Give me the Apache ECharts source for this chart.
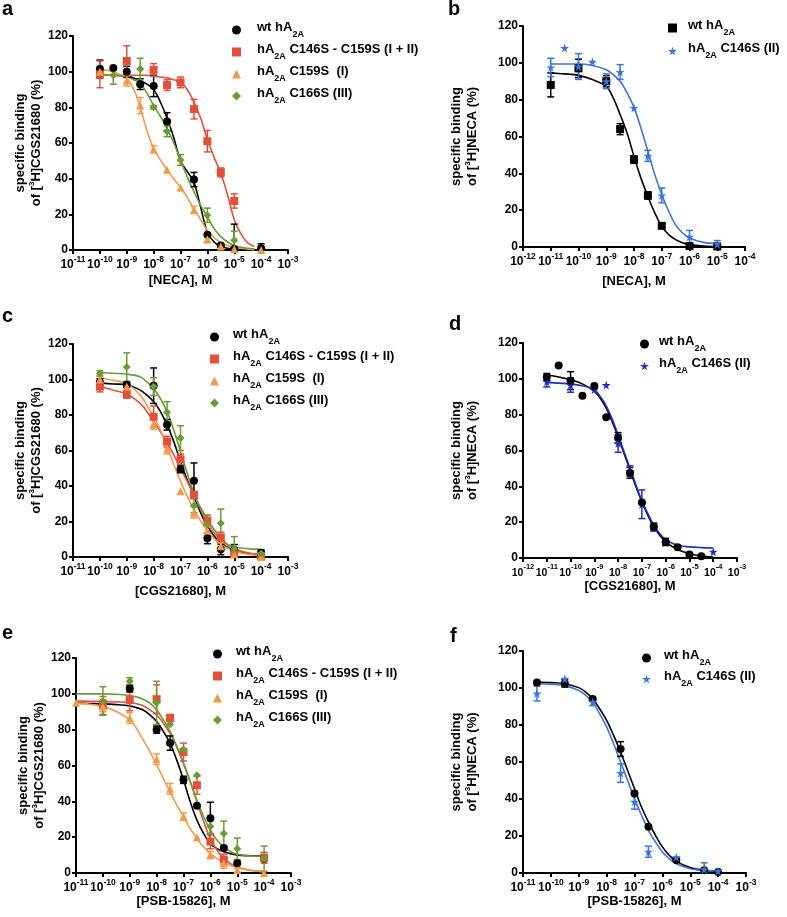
<!DOCTYPE html>
<html><head><meta charset="utf-8">
<script src="https://cdn.jsdelivr.net/npm/echarts@6/dist/echarts.min.js"></script>
<style>html,body{margin:0;padding:0;background:#fff}#c{width:787px;height:917px}</style>
</head><body><div id="c"></div>
<script>
// ---------- DATA (x = log10 of molar concentration) ----------
// Panel a: [NECA] vs [3H]CGS21680
const a_fitX = [-10,-9.5,-9,-8.75,-8.5,-8.25,-8,-7.75,-7.5,-7.25,-7,-6.75,-6.5,-6.25,-6,-5.75,-5.5,-5.25,-5,-4.75,-4.5,-4.25];
const a_wt_x = [-10,-9.5,-9,-8.5,-8,-7.5,-6.5,-6,-5.5,-5,-4];
const a_wt_y = [101.5,102,100,93,92,72,39.5,8.5,2.5,0.5,1];
const a_wt_e = [5,0,3,3,6,5,4,0,0,14,2.5];
const a_wt_fit = [98,98,97.5,96.5,95,93,90,83,74,63,50,44,38,24,10,4.5,2,1,0.5,0.2,0,0];
const a_dm_x = [-10,-9,-8,-7.5,-7,-6.5,-6,-5.5,-5];
const a_dm_y = [98.5,106,101,92.5,94,79,61,43.5,27.5];
const a_dm_e = [7.5,8.5,3.5,3,3,5.5,6,2.5,4];
const a_dm_fit = [98,98,98,98,98,98,97.5,97,96.5,95.5,94,90,83,74,62,52,43,31,17,9,4,2];
const a_c159_x = [-10,-9,-8.5,-8,-7.5,-7,-6.5,-6,-5.5,-5,-4];
const a_c159_y = [100,95,81,56.5,45,35,22.5,6,2,0.5,0];
const a_c159_e = [3,3,4.5,2,0,0,2,2,1,0,0];
const a_c159_fit = [101,100,96,90.5,80,67,57,50.5,45,40,35,29.5,23,17,11,7,4,2.5,1.5,1,0.5,0.2];
const a_c166_x = [-9.5,-8.5,-8,-7.5,-7,-6,-5];
const a_c166_y = [98,101.5,80,66.5,50.5,19.5,5.5];
const a_c166_e = [5,6,1,3,3,4,5];
const a_c166_fit = [98,98,97,95.5,93.5,88,81,75,68,60,50.5,41,32.7,25,18.7,12,7.5,4.5,2.4,1.5,1,0.5];

// Panel b: [NECA] vs [3H]NECA
const b_fitX = [-11,-10.5,-10,-9.5,-9,-8.75,-8.5,-8.25,-8,-7.75,-7.5,-7.25,-7,-6.75,-6.5,-6.25,-6,-5.5,-5];
const b_wt_x = [-11,-10,-9,-8.5,-8,-7.5,-7,-6,-5];
const b_wt_y = [88,97,90,64,47.5,28,11.5,0.5,0.3];
const b_wt_e = [6.5,5,3,3,2,2,1,1,0];
const b_wt_fit = [94.5,94,93.2,90.9,87.2,81,71.9,61.9,49.2,37.4,27.5,18.5,11.2,6.7,4,2.3,1.3,0.5,0.2];
const b_c146_x = [-11,-10.5,-10,-9.5,-9,-8.5,-8,-7.5,-7,-6,-5];
const b_c146_y = [97.5,108,98,100.5,90,95,75.5,49.5,28,5.5,1.5];
const b_c146_e = [5,0,7,0,4,4,0,3,4,3.5,2];
const b_c146_fit = [99.4,99.4,99.4,98.6,96.3,93.6,90,83.7,75.8,64.6,52,39.3,28.4,19.4,12,7.6,4.9,2.5,1.8];

// Panel c: [CGS21680] vs [3H]CGS21680
const c_fitX = [-10,-9.5,-9,-8.5,-8.25,-8,-7.75,-7.5,-7.25,-7,-6.75,-6.5,-6.25,-6,-5.75,-5.5,-5.25,-5,-4.5,-4];
const c_wt_x = [-10,-9,-8,-7.5,-7,-6.5,-6,-5.5,-5,-4];
const c_wt_y = [98.5,97,96.5,74.5,49.5,43,10.5,4.3,4,2.4];
const c_wt_e = [2,1.5,10,3,2,10,3,3,3,1.5];
const c_wt_fit = [98,97.5,97,94,91.2,87.5,82,74.4,65,53.8,43.5,34.2,24.9,17.4,11.8,8,5.5,3.4,2,1.5];
const c_dm_x = [-10,-9,-8,-7.5,-7,-6.5,-6,-5.5,-5,-4];
const c_dm_y = [96,91.5,79,65,55,35,20.5,11,1.5,0.5];
const c_dm_e = [3,2,6,3,3,2,3,3,1,1];
const c_dm_fit = [96,94,91.8,86.5,82,76.3,70.7,64,57.6,50,42.6,35,27.7,21,15.5,10.8,7,4.7,2.4,1.3];
const c_c159_x = [-10,-9,-8,-7.5,-7,-6.5,-6,-5.5,-5,-4];
const c_c159_y = [100,96,75,61,37,25,15,6,1.5,0];
const c_c159_e = [2,2,3,3,0,3,2,2,1,0];
const c_c159_fit = [101,99.5,97.8,91.2,85.6,79,71.6,62.2,52,42.6,34.2,26.7,20.2,14.6,10.3,7.1,5,3.4,1.5,0.6];
const c_c166_x = [-10,-9,-8,-7.5,-7,-6.5,-6,-5.5,-5,-4];
const c_c166_y = [103.5,107,96,81.5,67,29,18.5,19,4.5,2];
const c_c166_e = [1.5,8,5,6,7,4,5,8,7,1];
const c_c166_fit = [104,103.5,103,101.5,98.7,95,89.3,81.9,71.6,59.4,47.3,36,26.7,19.2,13.6,9.5,7,5.6,4.7,4.3];

// Panel d: [CGS21680] vs [3H]NECA
const d_fitX = [-11,-10.5,-10,-9.5,-9,-8.75,-8.5,-8.25,-8,-7.75,-7.5,-7.25,-7,-6.75,-6.5,-6.25,-6,-5.5,-5,-4.5,-4];
const d_wt_x = [-11,-10.5,-10,-9.5,-9,-8.5,-8,-7.5,-7,-6.5,-6,-5.5,-5,-4.5];
const d_wt_y = [101,107.5,99,90.5,96,78.5,67,47.5,31,17.5,9,6,2,1];
const d_wt_e = [2,0,5,0,0,0,3,3,0,2,2,0,0,0];
const d_wt_fit = [102.3,101,99.5,97.2,93,89.2,83.6,76.1,67.7,58.4,49.1,39.8,31.4,23.9,17.4,12.7,9,4.7,2.4,1.1,0.6];
const d_c146_x = [-11,-10,-9,-8.5,-8,-7.5,-7,-6.5,-6,-4];
const d_c146_y = [98.5,96.5,94,96.5,64,48.5,30,17,8.5,3.5];
const d_c146_e = [3,4,0,0,5,3,8,2,1,0];
const d_c146_fit = [98,97.6,97.2,96.1,93.9,90.1,84.9,77.5,68.7,59.3,50,40.7,31.9,24.8,18.3,13.6,10.3,7.1,6.2,5.8,5.6];

// Panel e: [PSB-15826] vs [3H]CGS21680
const e_fitX = [-11,-10.5,-10,-9.5,-9,-8.75,-8.5,-8.25,-8,-7.75,-7.5,-7.25,-7,-6.75,-6.5,-6.25,-6,-5.75,-5.5,-5.25,-5,-4.5,-4];
const e_wt_x = [-10,-9,-8,-7.5,-7,-6.5,-6,-5.5,-5,-4];
const e_wt_y = [95,103,80,72.5,52,37.5,30.5,14,5.5,8];
const e_wt_e = [0,2,2,4,2,0,9,1,0,0];
const e_wt_fit = [94.8,94.6,94.4,94,93.3,92.3,91,88.3,84.5,79,72.4,63,52,39.8,29.5,22,16.4,13.6,11.8,10.8,10,9.6,9.3];
const e_dm_x = [-10,-9,-8,-7.5,-7,-6.5,-6,-5.5,-4];
const e_dm_y = [93.5,96.5,97,86.5,67.5,49,17.5,7.5,8.5];
const e_dm_e = [5,6,8,2,5,5,4,3,3];
const e_dm_fit = [96,95.9,95.7,95.5,95.2,94.5,93.3,91,88.3,83.6,78,70.5,61.2,51,39.8,28.6,19.2,12.7,8,5.2,3.4,1.5,0.7];
const e_c159_x = [-11,-10,-9,-8,-7.5,-7,-6.5,-6,-5.5,-5,-4];
const e_c159_y = [95,93,86.5,63.5,47,31.5,20,10,5.5,1.5,0];
const e_c159_e = [0,3,3,3,3,2,0,2,3,1,0];
const e_c159_fit = [94.8,94.2,93,90.1,85.5,80.8,74.3,67.7,60.3,52.8,45.3,37.9,31.4,24.8,19.2,14.6,10.8,8,5.8,4.2,3,1.5,0.6];
const e_c166_x = [-10,-9,-8,-7.5,-7,-6.5,-6,-5.5,-5,-4];
const e_c166_y = [96,107,95,83,69,54.5,26,22,13.5,8];
const e_c166_e = [8,2,12,0,0,0,4,7,6,7];
const e_c166_fit = [100,100,100,99.8,99.1,98.3,97,94.8,91,85.5,79,70.5,61.2,51,40.7,31.4,23.9,18.3,14.6,12,10.5,9.5,9.2];

// Panel f: [PSB-15826] vs [3H]NECA
const f_fitX = [-10.5,-10,-9.5,-9,-8.75,-8.5,-8.25,-8,-7.75,-7.5,-7.25,-7,-6.75,-6.5,-6.25,-6,-5.75,-5.5,-5,-4.5,-4];
const f_wt_x = [-10.5,-9.5,-8.5,-7.5,-7,-6.5,-5.5,-4.5,-4];
const f_wt_y = [103,102.5,94,67,43,25,7,1.5,0.5];
const f_wt_e = [0,2,1,4,1,0,0,0,0];
const f_wt_fit = [103.2,102.9,102.3,100.2,97.8,94.2,88.8,82.5,74.4,65.4,55.5,45.6,35.7,27.6,20.4,14.1,9.5,6.3,2.9,1.4,0.9];
const f_c146_x = [-10.5,-9.5,-8.5,-7.5,-7,-6.5,-5.5,-4.5,-4];
const f_c146_y = [97,105,92.5,54,38.5,11.5,8.5,2,1];
const f_c146_e = [4,0,2,5,4,3,0,3.5,0];
const f_c146_fit = [102.3,102,101.3,98.7,96,92.4,86.1,79,69.9,60,50.1,40.2,31.2,23.1,16.8,11.4,7.7,5,2.3,1.4,1.1];

// Axis ticks / labels
const yTicks = [0,20,40,60,80,100,120];
const xRanges = [[-11,-3],[-12,-4],[-11,-3],[-12,-3],[-11,-3],[-11,-3]];
const xNames = ['[NECA], M','[NECA], M','[CGS21680], M','[CGS21680], M','[PSB-15826], M','[PSB-15826], M'];
const yNames = ['CGS21680','NECA','CGS21680','NECA','CGS21680','NECA'];
const panelLetters = ['a','b','c','d','e','f'];
const legendTexts = {
  wt: '{t|wt hA}{s|2A}',
  dm: '{t|hA}{s|2A}{t| C146S - C159S (I + II)}',
  c159: '{t|hA}{s|2A}{t| C159S  (I)}',
  c166: '{t|hA}{s|2A}{t| C166S (III)}',
  c146: '{t|hA}{s|2A}{t| C146S (II)}'
};

// ---------- STYLE ----------
const FONT = '"Liberation Sans", Arial, Helvetica, sans-serif';
const COL = {black:'#000000', red:'#e0503a', orange:'#f29a4c', green:'#6a9c34', blue:'#3b74dc', dblue:'#1e2ec4'};
const STAR = 'path://M50,0 L61,35 L98,35 L68,57 L79,91 L50,70 L21,91 L32,57 L2,35 L39,35 Z';
const grids = [
  {left:73, top:36, width:215, height:214},
  {left:523, top:26, width:222, height:221},
  {left:73, top:344, width:215, height:213},
  {left:523, top:343, width:214, height:215},
  {left:76, top:658, width:215, height:215},
  {left:523, top:651, width:223, height:222}
];
const xNameGap = [24, 28, 28, 17, 22, 22];
const yNameGap = [28, 43, 28, 43, 28, 43];
const xTickFont = [[12,8.5],[12,8.5],[12,8.5],[10.5,7.5],[12,8.5],[12,8.5]];
const legendPos = [
  {left:232, top:21, gap:4, pad:11},
  {left:668, top:19, gap:5, pad:6},
  {left:210, top:328, gap:4, pad:9},
  {left:640, top:335, gap:4, pad:5},
  {left:213, top:645, gap:4, pad:9},
  {left:642, top:649, gap:3, pad:8}
];
const letterPos = [[2,14],[448,14],[2,321],[449,329],[2,638],[450,641]];

const panels = [
  [ {k:'wt', c:COL.black, s:'circle', z:8, x:a_wt_x, y:a_wt_y, e:a_wt_e, fx:a_fitX, fy:a_wt_fit},
    {k:'dm', c:COL.red, s:'rect', z:8, x:a_dm_x, y:a_dm_y, e:a_dm_e, fx:a_fitX, fy:a_dm_fit},
    {k:'c159', c:COL.orange, s:'triangle', z:8, x:a_c159_x, y:a_c159_y, e:a_c159_e, fx:a_fitX, fy:a_c159_fit},
    {k:'c166', c:COL.green, s:'diamond', z:8, x:a_c166_x, y:a_c166_y, e:a_c166_e, fx:a_fitX, fy:a_c166_fit} ],
  [ {k:'wt', c:COL.black, s:'rect', z:8, x:b_wt_x, y:b_wt_y, e:b_wt_e, fx:b_fitX, fy:b_wt_fit},
    {k:'c146', c:COL.blue, s:STAR, z:8, x:b_c146_x, y:b_c146_y, e:b_c146_e, fx:b_fitX, fy:b_c146_fit} ],
  [ {k:'wt', c:COL.black, s:'circle', z:8, x:c_wt_x, y:c_wt_y, e:c_wt_e, fx:c_fitX, fy:c_wt_fit},
    {k:'dm', c:COL.red, s:'rect', z:8, x:c_dm_x, y:c_dm_y, e:c_dm_e, fx:c_fitX, fy:c_dm_fit},
    {k:'c159', c:COL.orange, s:'triangle', z:8, x:c_c159_x, y:c_c159_y, e:c_c159_e, fx:c_fitX, fy:c_c159_fit},
    {k:'c166', c:COL.green, s:'diamond', z:8, x:c_c166_x, y:c_c166_y, e:c_c166_e, fx:c_fitX, fy:c_c166_fit} ],
  [ {k:'wt', c:COL.black, s:'circle', z:9, x:d_wt_x, y:d_wt_y, e:d_wt_e, fx:d_fitX, fy:d_wt_fit},
    {k:'c146', c:COL.dblue, s:STAR, z:8, x:d_c146_x, y:d_c146_y, e:d_c146_e, fx:d_fitX, fy:d_c146_fit} ],
  [ {k:'wt', c:COL.black, s:'circle', z:8, x:e_wt_x, y:e_wt_y, e:e_wt_e, fx:e_fitX, fy:e_wt_fit},
    {k:'dm', c:COL.red, s:'rect', z:8, x:e_dm_x, y:e_dm_y, e:e_dm_e, fx:e_fitX, fy:e_dm_fit},
    {k:'c159', c:COL.orange, s:'triangle', z:8, x:e_c159_x, y:e_c159_y, e:e_c159_e, fx:e_fitX, fy:e_c159_fit},
    {k:'c166', c:COL.green, s:'diamond', z:8, x:e_c166_x, y:e_c166_y, e:e_c166_e, fx:e_fitX, fy:e_c166_fit} ],
  [ {k:'wt', c:COL.black, s:'circle', z:8, x:f_wt_x, y:f_wt_y, e:f_wt_e, fx:f_fitX, fy:f_wt_fit},
    {k:'c146', c:COL.blue, s:STAR, z:8, x:f_c146_x, y:f_c146_y, e:f_c146_e, fx:f_fitX, fy:f_c146_fit} ]
];

// ---------- BUILD ----------
const zip = (a,b) => a.map((v,i)=>[v,b[i]]);
const symSize = s => s==='circle'?8:(s==='rect'?8:(s==='triangle'?8:(s==='diamond'?8:9)));

const xAxes = [], yAxes = [], series = [], legends = [], graphics = [];
const legendMap = {};

panels.forEach((ds, p) => {
  const tf = xTickFont[p];
  xAxes.push({
    gridIndex:p, type:'value', min:xRanges[p][0], max:xRanges[p][1], interval:1,
    name:xNames[p], nameLocation:'middle', nameGap:xNameGap[p],
    nameTextStyle:{fontFamily:FONT, fontWeight:'bold', fontSize:13, color:'#000'},
    axisLine:{show:true, onZero:false, lineStyle:{color:'#000', width:2}},
    axisTick:{show:true, length:4, lineStyle:{color:'#000', width:2}},
    splitLine:{show:false},
    axisLabel:{
      interval:0, margin:5, showMinLabel:true, showMaxLabel:true, hideOverlap:false,
      fontFamily:FONT, fontWeight:'bold', fontSize:tf[0], color:'#000',
      formatter: v => '{b|10}{s|' + v + '}',
      rich:{
        b:{fontFamily:FONT, fontWeight:'bold', fontSize:tf[0], color:'#000', lineHeight:16, verticalAlign:'bottom'},
        s:{fontFamily:FONT, fontWeight:'bold', fontSize:tf[1], color:'#000', lineHeight:9, verticalAlign:'top'}
      }
    }
  });
  yAxes.push({
    gridIndex:p, type:'value', min:0, max:120, interval:20,
    name:'specific binding\nof [{sup|3}H]' + yNames[p] + ' (%)',
    nameLocation:'middle', nameGap:yNameGap[p],
    nameTextStyle:{fontFamily:FONT, fontWeight:'bold', fontSize:13, color:'#000', lineHeight:16,
      rich:{sup:{fontFamily:FONT, fontWeight:'bold', fontSize:8, color:'#000', lineHeight:8, verticalAlign:'top'}}},
    axisLine:{show:true, lineStyle:{color:'#000', width:2}},
    axisTick:{show:true, length:4, lineStyle:{color:'#000', width:2}},
    splitLine:{show:false},
    axisLabel:{fontFamily:FONT, fontWeight:'bold', fontSize:12, color:'#000', margin:5, hideOverlap:false}
  });
  const names = [];
  ds.forEach(d => {
    const nm = panelLetters[p] + ':' + d.k;
    names.push(nm);
    legendMap[nm] = legendTexts[d.k];
    series.push({
      type:'line', name:nm + ' fit', xAxisIndex:p, yAxisIndex:p,
      data:zip(d.fx, d.fy), smooth:0.35, showSymbol:false, silent:true,
      lineStyle:{color:d.c, width:1.6}, z:3, clip:false
    });
    const col = d.c;
    series.push({
      type:'custom', name:nm + ' err', xAxisIndex:p, yAxisIndex:p, z:4, silent:true, clip:false,
      data:d.x.map((v,i)=>[v, d.y[i], d.e[i]]).filter(r => r[2] > 0),
      renderItem:(params, api) => {
        const x = api.value(0), y = api.value(1), e = api.value(2);
        const t = api.coord([x, y + e]), b = api.coord([x, Math.max(0, y - e)]);
        const cap = 3.5, st = {stroke:col, lineWidth:1.5};
        return {type:'group', children:[
          {type:'line', shape:{x1:t[0], y1:t[1], x2:b[0], y2:b[1]}, style:st},
          {type:'line', shape:{x1:t[0]-cap, y1:t[1], x2:t[0]+cap, y2:t[1]}, style:st},
          {type:'line', shape:{x1:b[0]-cap, y1:b[1], x2:b[0]+cap, y2:b[1]}, style:st}
        ]};
      }
    });
    series.push({
      type:'scatter', name:nm, xAxisIndex:p, yAxisIndex:p, z:d.z,
      symbol:d.s, symbolSize:symSize(d.s),
      itemStyle:{color:d.c, opacity:1}, data:zip(d.x, d.y), clip:false
    });
  });
  const lp = legendPos[p];
  legends.push({
    data:names.map(n => ({name:n, icon:ds.find(d => panelLetters[p] + ':' + d.k === n).s})),
    orient:'vertical', left:lp.left, top:lp.top, itemGap:lp.gap, itemWidth:9, itemHeight:9,
    selectedMode:false, padding:0,
    formatter: n => legendMap[n],
    textStyle:{padding:[0,0,0,lp.pad], rich:{
      t:{fontFamily:FONT, fontWeight:'bold', fontSize:13, color:'#000', lineHeight:18, verticalAlign:'top'},
      s:{fontFamily:FONT, fontWeight:'bold', fontSize:9, color:'#000', lineHeight:11, verticalAlign:'bottom'}
    }}
  });
  graphics.push({type:'text', left:letterPos[p][0], top:letterPos[p][1] - 15,
    style:{text:panelLetters[p], font:'bold 20px ' + FONT, fill:'#000'}});
});

const chart = echarts.init(document.getElementById('c'), null, {renderer:'canvas'});
chart.setOption({
  animation:false, backgroundColor:'#fff',
  grid:grids.map(g => Object.assign({containLabel:false}, g)),
  xAxis:xAxes, yAxis:yAxes, series:series, legend:legends, graphic:graphics
});
</script></body></html>
